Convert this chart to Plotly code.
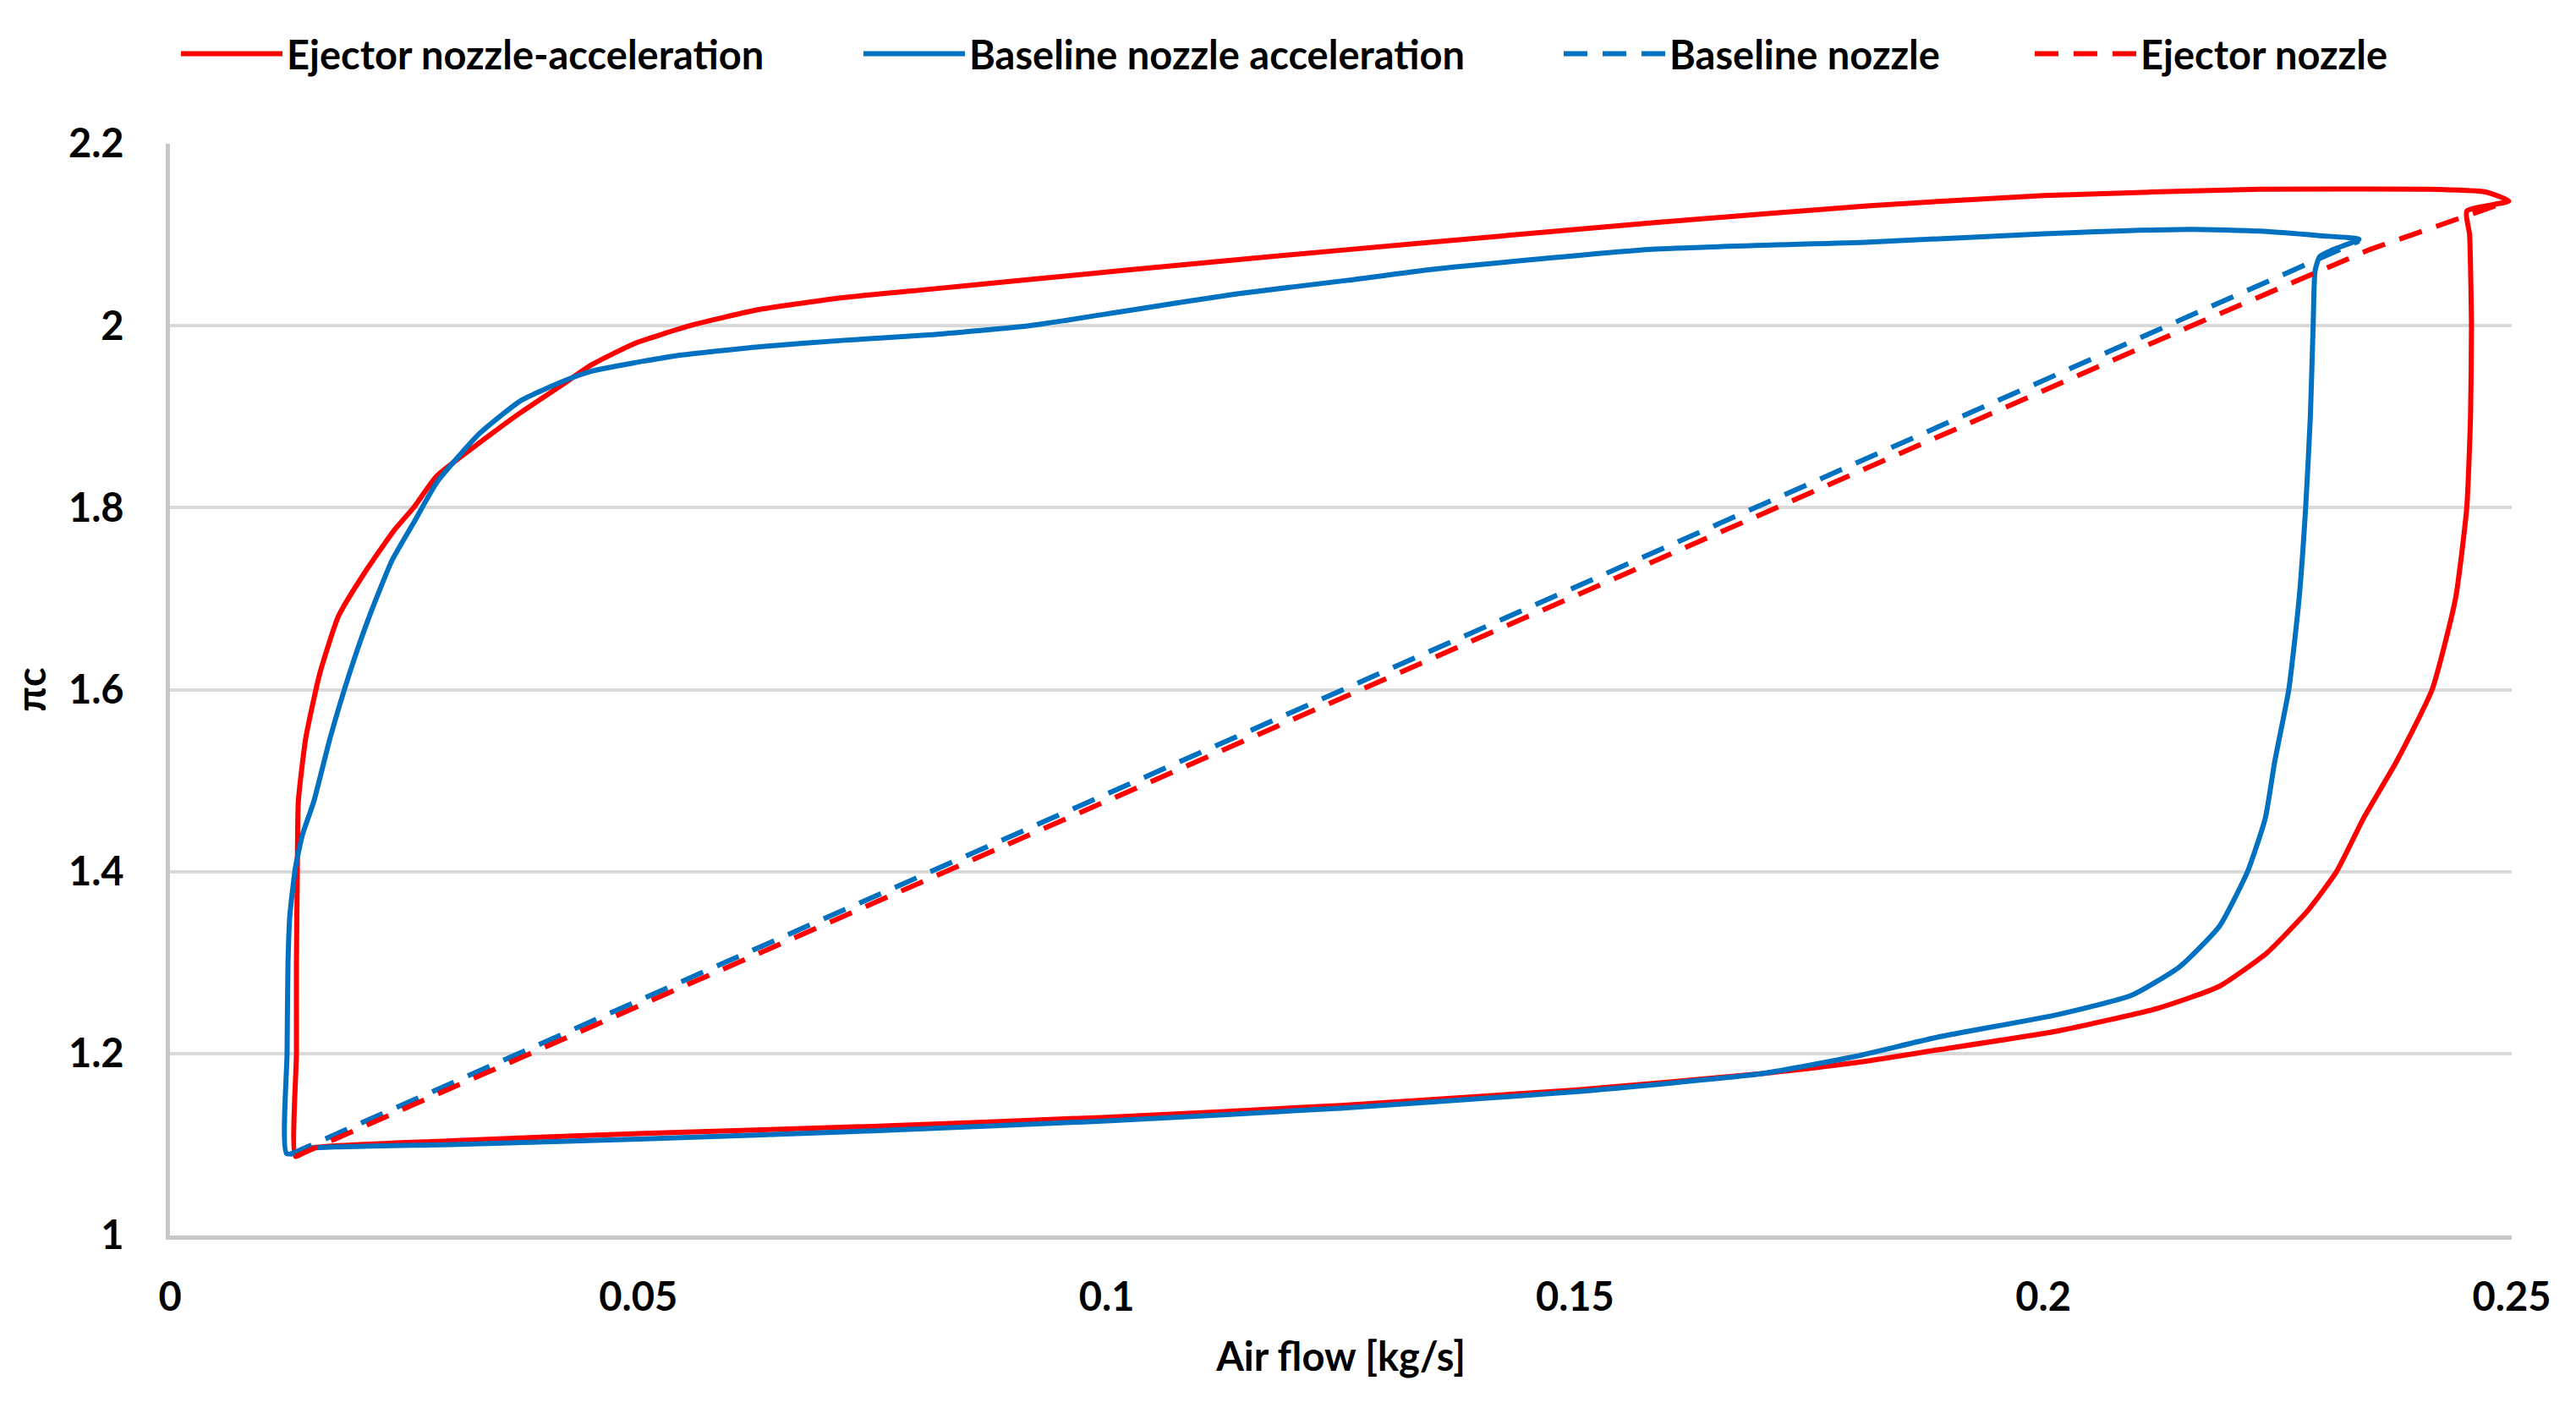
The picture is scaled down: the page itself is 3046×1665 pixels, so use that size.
import plotly.graph_objects as go

# ---- data ----
ejector_acc_x = [0.0134, 0.0151, 0.03, 0.05, 0.075, 0.1, 0.125, 0.15, 0.17, 0.18, 0.1887, 0.2016, 0.2123,
                 0.2188, 0.2239, 0.2283, 0.2313, 0.2342, 0.2377, 0.2415, 0.244, 0.2452, 0.2456, 0.2457,
                 0.2455, 0.2452, 0.2497, 0.2472, 0.2407, 0.2231, 0.2, 0.1815, 0.1582, 0.1348, 0.1133,
                 0.0899, 0.081, 0.072, 0.063, 0.0555, 0.0495, 0.045, 0.042, 0.0375, 0.033, 0.0285, 0.026,
                 0.024, 0.021, 0.018, 0.016, 0.0145, 0.0137, 0.0136, 0.0135, 0.0135, 0.0134]
ejector_acc_y = [1.087, 1.096, 1.104, 1.112, 1.12, 1.13, 1.143, 1.16, 1.178, 1.19, 1.204, 1.225, 1.25,
                 1.274, 1.311, 1.358, 1.40, 1.459, 1.521, 1.6, 1.7, 1.8, 1.9, 2.0,
                 2.1, 2.126, 2.137, 2.147, 2.150, 2.150, 2.143, 2.132, 2.113, 2.092, 2.072,
                 2.049, 2.04, 2.031, 2.018, 2.0, 1.98, 1.957, 1.936, 1.905, 1.871, 1.835, 1.8,
                 1.776, 1.732, 1.681, 1.618, 1.547, 1.477, 1.405, 1.3, 1.2, 1.087]

baseline_acc_x = [0.01246, 0.015, 0.03, 0.05, 0.075, 0.1, 0.125, 0.15, 0.17, 0.18, 0.1887, 0.2016, 0.2094,
                  0.2145, 0.2188, 0.2218, 0.2237, 0.2247, 0.2262, 0.2273, 0.228, 0.2285, 0.2288, 0.229,
                  0.2295, 0.231, 0.2337, 0.2295, 0.2231, 0.2157, 0.2, 0.1815, 0.1582, 0.1348, 0.1258,
                  0.1139, 0.1019, 0.0917, 0.081, 0.072, 0.063, 0.054, 0.045, 0.042, 0.0375, 0.033,
                  0.0285, 0.0261, 0.0237, 0.0213, 0.0192, 0.0171, 0.01535, 0.01416, 0.0134, 0.0128,
                  0.0126, 0.0125, 0.01246]
baseline_acc_y = [1.09, 1.096, 1.100, 1.106, 1.115, 1.126, 1.14, 1.158, 1.178, 1.197, 1.218, 1.243, 1.264,
                  1.295, 1.340, 1.40, 1.459, 1.521, 1.6, 1.7, 1.8, 1.9, 2.0, 2.06,
                  2.076, 2.084, 2.095, 2.099, 2.104, 2.106, 2.101, 2.092, 2.084, 2.062, 2.050,
                  2.035, 2.016, 2.0, 1.99, 1.984, 1.977, 1.967, 1.95, 1.939, 1.918, 1.881,
                  1.828, 1.785, 1.742, 1.681, 1.619, 1.547, 1.477, 1.441, 1.405, 1.352,
                  1.30, 1.2, 1.09]

baseline_nozzle_x = [0.0128, 0.2146, 0.2261, 0.2337]
baseline_nozzle_y = [1.089, 2.005, 2.058, 2.093]

ejector_nozzle_x = [0.0134, 0.2154, 0.2349, 0.2497]
ejector_nozzle_y = [1.087, 1.998, 2.084, 2.137]

x_ticks = [0, 0.05, 0.1, 0.15, 0.2, 0.25]
x_tick_labels = ["0", "0.05", "0.1", "0.15", "0.2", "0.25"]

RED = "#FF0000"
BLUE = "#0070C0"
FONT = dict(family="Lato", size=47, color="#000000", weight="bold")
DASH = "28px,18px"

fig = go.Figure()
fig.add_trace(go.Scatter(x=ejector_acc_x, y=ejector_acc_y, mode="lines",
                         name="Ejector nozzle-acceleration",
                         line=dict(color=RED, width=6, shape="spline", smoothing=0.5), legend="legend"))
fig.add_trace(go.Scatter(x=baseline_acc_x, y=baseline_acc_y, mode="lines",
                         name="Baseline nozzle acceleration",
                         line=dict(color=BLUE, width=6, shape="spline", smoothing=0.5), legend="legend2"))
fig.add_trace(go.Scatter(x=baseline_nozzle_x, y=baseline_nozzle_y, mode="lines",
                         name="Baseline nozzle",
                         line=dict(color=BLUE, width=6, dash=DASH), legend="legend3"))
fig.add_trace(go.Scatter(x=ejector_nozzle_x, y=ejector_nozzle_y, mode="lines",
                         name="Ejector nozzle",
                         line=dict(color=RED, width=6, dash=DASH), legend="legend4"))

L, R, T, B = 193, 84, 162, 212
W, H = 3046, 1665
pw, ph = W - L - R, H - T - B


def lx(px):
    return (px - L) / pw


ly = 1 + (T - 56) / ph
leg_common = dict(orientation="h", yanchor="middle", y=ly, xanchor="left",
                  font=FONT, itemwidth=120, bgcolor="rgba(0,0,0,0)", borderwidth=0)

fig.update_layout(
    width=W, height=H,
    margin=dict(l=L, r=R, t=T, b=B),
    paper_bgcolor="white", plot_bgcolor="white",
    font=FONT,
    showlegend=True,
    legend=dict(x=lx(201), **leg_common),
    legend2=dict(x=lx(1008), **leg_common),
    legend3=dict(x=lx(1836), **leg_common),
    legend4=dict(x=lx(2393), **leg_common),
    xaxis=dict(range=[0, 0.25], tickvals=x_ticks, ticktext=x_tick_labels,
               showgrid=False, zeroline=False, showline=True, linecolor="#C8C8C8", linewidth=5,
               ticks="", ticklabelstandoff=28, tickfont=FONT,
               title=dict(text="Air flow [kg/s]", font=FONT, standoff=30)),
    yaxis=dict(range=[1, 2.2], dtick=0.2, tick0=1,
               showgrid=True, gridcolor="#D9D9D9", gridwidth=4,
               zeroline=False, showline=True, linecolor="#C8C8C8", linewidth=5,
               ticks="", ticklabelstandoff=40, tickfont=FONT,
               title=dict(text="πc", font=FONT, standoff=18)),
)

fig.write_html("out.html")
